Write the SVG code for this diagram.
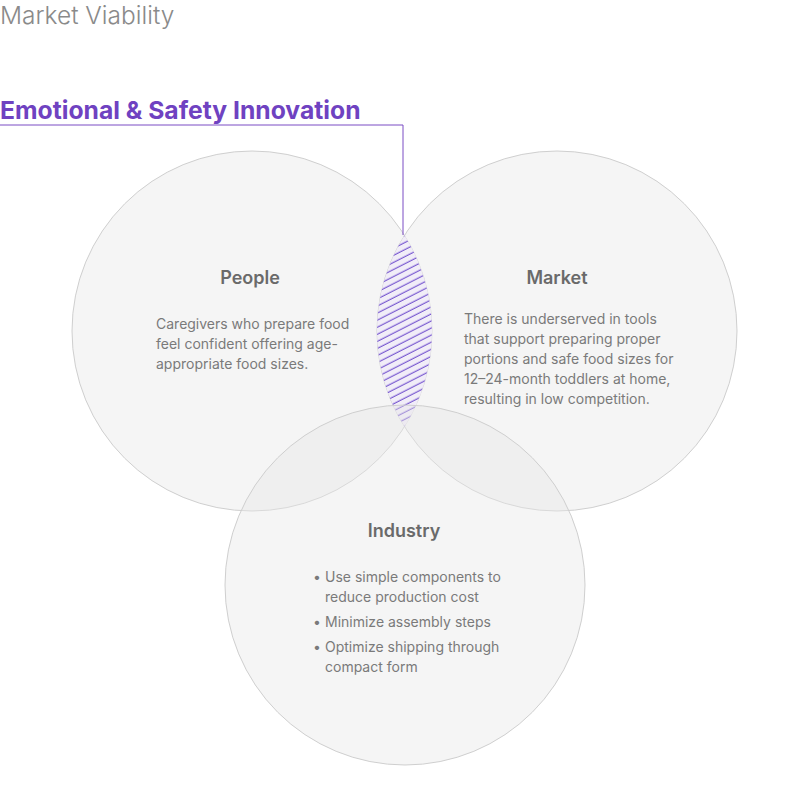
<svg xmlns="http://www.w3.org/2000/svg" width="800" height="800" viewBox="0 0 800 800">
<style>
.circ{fill:#e6e6e6;fill-opacity:0.42;stroke:#cfcfcf;stroke-width:1}
.head{font-family:Inter,"Liberation Sans",sans-serif;font-size:18px;font-weight:600;fill:#6a6a6a;text-anchor:middle}
.body{font-family:Inter,"Liberation Sans",sans-serif;font-size:14px;fill:#7a7a7a}
</style>
<defs>
<pattern id="hatch" patternUnits="userSpaceOnUse" width="12" height="6.3" patternTransform="rotate(-27)">
<line x1="0" y1="3" x2="12" y2="3" stroke="#7b5cd0" stroke-width="1.2"/>
</pattern>
</defs>
<rect width="800" height="800" fill="#ffffff"/>
<text x="0" y="24" font-family="Inter,'Liberation Sans',sans-serif" font-size="24.5" font-weight="300" fill="#8a8a8a">Market Viability</text>
<g id="people"><circle class="circ" cx="252" cy="331" r="180"/></g>
<g id="market"><circle class="circ" cx="557" cy="331" r="180"/></g>
<g id="intersection">
<path d="M404.5 235.4 A180 180 0 0 1 404.5 426.6 A180 180 0 0 1 404.5 235.4 Z" fill="#f1edf8"/>
<path d="M404.5 235.4 A180 180 0 0 1 404.5 426.6 A180 180 0 0 1 404.5 235.4 Z" fill="url(#hatch)"/>
</g>
<g id="industry"><circle class="circ" cx="405" cy="585" r="180"/></g>
<g id="connectors">
<polyline points="0,125 403,125 403,235" fill="none" stroke="#7a4cc4" stroke-width="1"/>
</g>
<g id="title">
<text x="0" y="119" font-family="Inter,'Liberation Sans',sans-serif" font-size="24.7" font-weight="700" fill="#6f42c1">Emotional &amp; Safety Innovation</text>
</g>
<g id="people-text">
<text class="head" x="250" y="284">People</text>
<text class="body" x="156" y="329">Caregivers who prepare food</text>
<text class="body" x="156" y="349">feel confident offering age-</text>
<text class="body" x="156" y="369">appropriate food sizes.</text>
</g>
<g id="market-text">
<text class="head" x="557" y="284">Market</text>
<text class="body" x="464" y="324">There is underserved in tools</text>
<text class="body" x="464" y="344">that support preparing proper</text>
<text class="body" x="464" y="364">portions and safe food sizes for</text>
<text class="body" x="464" y="384">12–24-month toddlers at home,</text>
<text class="body" x="464" y="404">resulting in low competition.</text>
</g>
<g id="industry-text">
<text class="head" x="404" y="537">Industry</text>
<text class="body" x="313" y="582">•</text>
<text class="body" x="325" y="582">Use simple components to</text>
<text class="body" x="325" y="602">reduce production cost</text>
<text class="body" x="313" y="627">•</text>
<text class="body" x="325" y="627">Minimize assembly steps</text>
<text class="body" x="313" y="652">•</text>
<text class="body" x="325" y="652">Optimize shipping through</text>
<text class="body" x="325" y="672">compact form</text>
</g>
</svg>
